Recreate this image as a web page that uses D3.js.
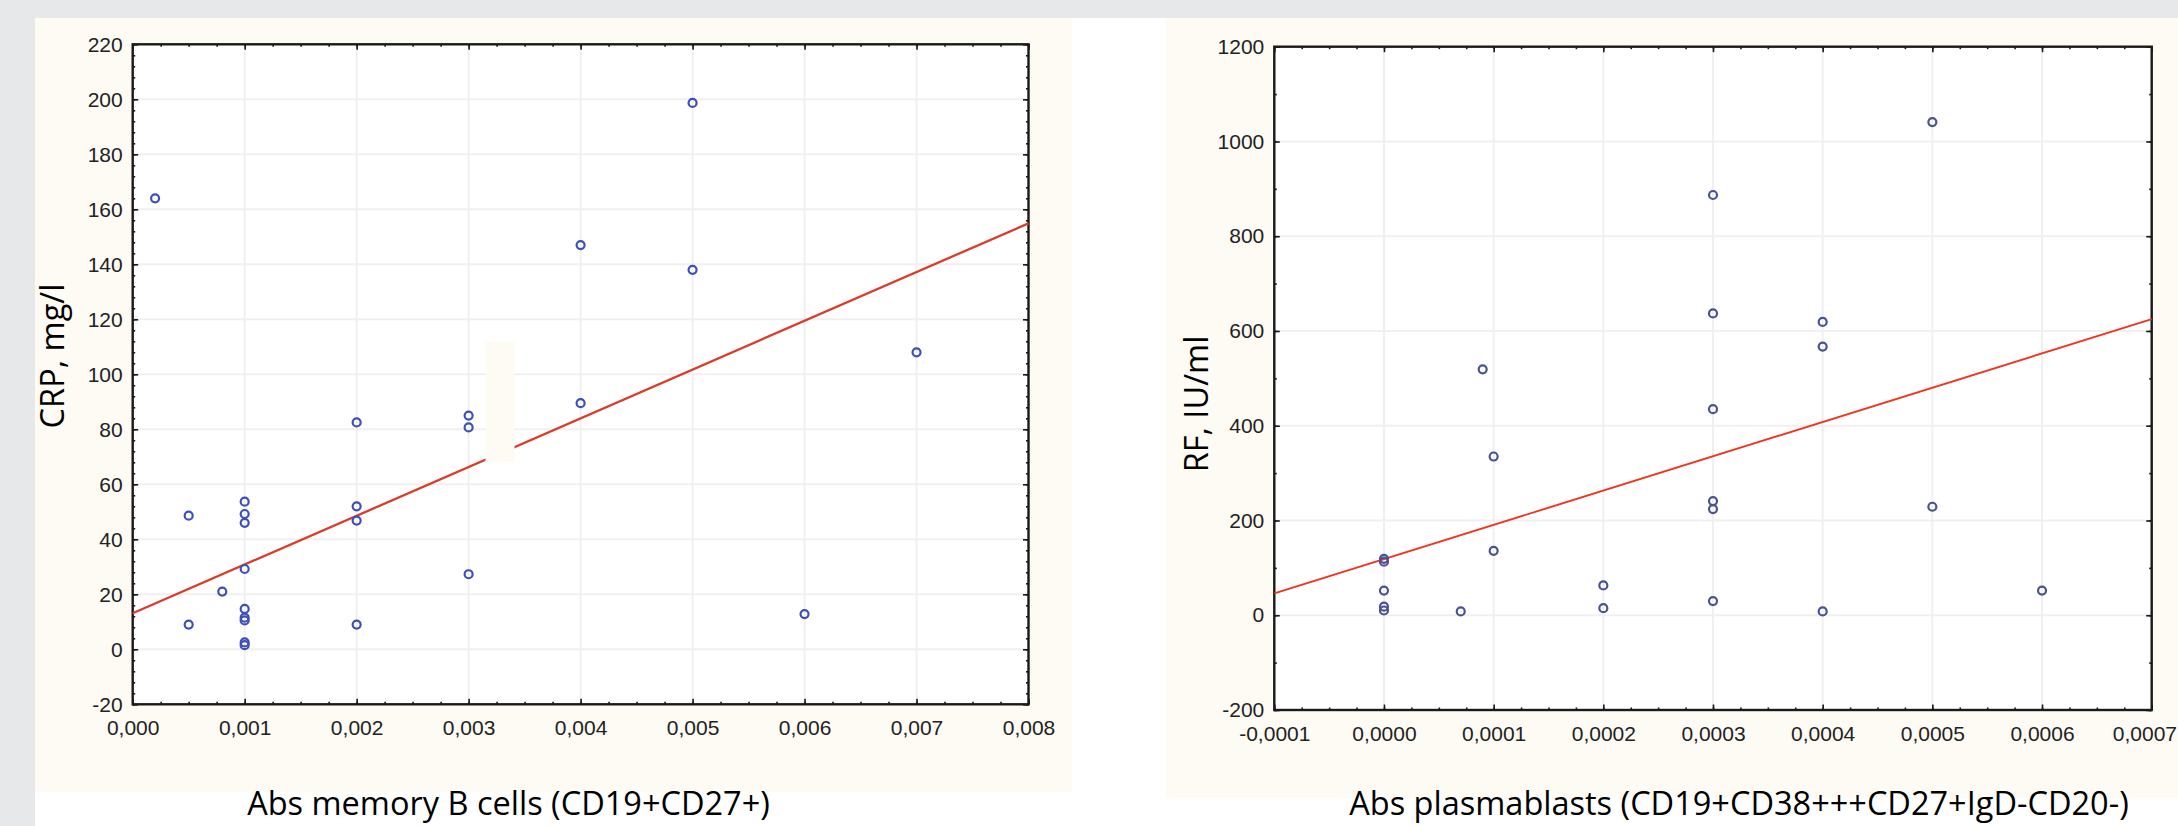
<!DOCTYPE html>
<html>
<head>
<meta charset="utf-8">
<script src="https://cdn.jsdelivr.net/npm/d3@7"></script>
<style>
    html, body { margin: 0; padding: 0; background: #ffffff; }
    svg { display: block; }
    .tick text { font-family: "Liberation Sans", Arial, sans-serif; font-size: 21px; fill: #222; }
    .title { font-family: "Open Sans", sans-serif; font-size: 32.5px; fill: #000; }
</style>
</head>
<body>
<div id="chart"></div>
<script>
// left chart: memory B cells vs CRP
var memoryCells = [0.0002, 0.002, 0.003, 0.003, 0.005, 0.004, 0.005, 0.007, 0.004, 0.0005, 0.001, 0.001, 0.001,
    0.001, 0.0008, 0.001, 0.001, 0.001, 0.001, 0.001, 0.0005, 0.002, 0.002, 0.002, 0.003, 0.006];
var crp = [164, 82.5, 85, 80.7, 198.7, 147, 138, 108, 89.5, 48.6, 53.7, 49.2, 46,
    29.2, 21, 14.7, 11.5, 10.5, 2.5, 1.5, 9, 52, 46.8, 9, 27.3, 12.8];
var crpFit = [[0, 13.1], [0.008, 154.9]];
var memoryTicks = [0, 0.001, 0.002, 0.003, 0.004, 0.005, 0.006, 0.007, 0.008];
var crpTicks = [-20, 0, 20, 40, 60, 80, 100, 120, 140, 160, 180, 200, 220];
// the pale patch over the fit line in the original figure
var crpPatch = [[0.00315, 112], [0.00341, 68]];

// right chart: plasmablasts vs RF
var plasmablasts = [0.00009, 0.0005, 0.0003, 0.0003, 0.0004, 0.0004, 0.0003, 0.0001, 0.0001, 0, 0, 0,
    0, 0, 0.00007, 0.0002, 0.0002, 0.0003, 0.0003, 0.0005, 0.0003, 0.0004, 0.0006];
var rf = [519, 1041, 887, 637, 619, 567, 435, 335, 136, 119, 113, 52,
    18, 10, 8, 63, 15, 241, 224, 229, 30, 8, 52];
var rfFit = [[-0.0001, 46], [0.0007, 625]];
var plasmaTicks = [-0.0001, 0, 0.0001, 0.0002, 0.0003, 0.0004, 0.0005, 0.0006, 0.0007];
var rfTicks = [-200, 0, 200, 400, 600, 800, 1000, 1200];

(function() {

    var width = 2178;
    var height = 826;
    var cream = "#fefbf5";

    var locale = d3.formatLocale({decimal: ",", thousands: "", grouping: [3], currency: ["", ""], minus: "-"});

    var svg = d3.select("#chart")
        .append("svg")
        .attr("width", width)
        .attr("height", height);

    // page background
    svg.append("rect").attr("x", 0).attr("y", 0).attr("width", width).attr("height", 18).attr("fill", "#e7e8ea");
    svg.append("rect").attr("x", 0).attr("y", 0).attr("width", 35).attr("height", height).attr("fill", "#e7e8ea");
    svg.append("rect").attr("x", 35).attr("y", 18).attr("width", 1037).attr("height", 774).attr("fill", cream);
    svg.append("rect").attr("x", 1166).attr("y", 18).attr("width", width - 1166).attr("height", 780).attr("fill", cream);

    drawPanel(svg, {
        left: 132.7, right: 1028.5, top: 44.3, bottom: 704.3,
        xDomain: [0, 0.008], yDomain: [-20, 220],
        xTicks: memoryTicks, yTicks: crpTicks,
        xMinor: 0.00025, yMinor: 4,
        xFormat: locale.format(".3f"), yFormat: locale.format("d"),
        xs: memoryCells, ys: crp, fit: crpFit, patch: crpPatch,
        dotColor: "#3e4fb8", lineColor: "#dc3b2a", lineWidth: 2.3,
        yTitle: "CRP, mg/l", yTitleX: 64, yTitleY: 356,
        xTitle: "Abs memory B cells (CD19+CD27+)", xTitleX: 508.5, xTitleY: 815
    });

    drawPanel(svg, {
        left: 1274.3, right: 2151.7, top: 46.7, bottom: 710,
        xDomain: [-0.0001, 0.0007], yDomain: [-200, 1200],
        xTicks: plasmaTicks, yTicks: rfTicks,
        xMinor: 0.000025, yMinor: 100,
        xFormat: locale.format(".4f"), yFormat: locale.format("d"),
        xs: plasmablasts, ys: rf, fit: rfFit, patch: null,
        dotColor: "#4a5392", lineColor: "#f03420", lineWidth: 1.9,
        yTitle: "RF, IU/ml", yTitleX: 1208, yTitleY: 404,
        xTitle: "Abs plasmablasts (CD19+CD38+++CD27+IgD-CD20-)", xTitleX: 1739, xTitleY: 815
    });

    function drawPanel(svg, p) {

        var x = d3.scaleLinear().domain(p.xDomain).range([p.left, p.right]);
        var y = d3.scaleLinear().domain(p.yDomain).range([p.bottom, p.top]);

        var g = svg.append("g");

        g.append("rect")
            .attr("x", p.left).attr("y", p.top)
            .attr("width", p.right - p.left).attr("height", p.bottom - p.top)
            .attr("fill", "#ffffff");

        // faint grid
        g.append("g").selectAll("line").data(p.xTicks).enter().append("line")
            .attr("x1", function (d) { return x(d); })
            .attr("x2", function (d) { return x(d); })
            .attr("y1", p.top).attr("y2", p.bottom)
            .attr("stroke", "#f0f0f0").attr("stroke-width", 2);
        g.append("g").selectAll("line").data(p.yTicks).enter().append("line")
            .attr("y1", function (d) { return y(d); })
            .attr("y2", function (d) { return y(d); })
            .attr("x1", p.left).attr("x2", p.right)
            .attr("stroke", "#f0f0f0").attr("stroke-width", 2);

        var xMinor = d3.range(p.xDomain[0], p.xDomain[1] + p.xMinor / 2, p.xMinor);
        var yMinor = d3.range(p.yDomain[0], p.yDomain[1] + p.yMinor / 2, p.yMinor);

        // minor ticks, all four sides
        addAxis(d3.axisBottom(x).tickValues(xMinor).tickSize(-2.5).tickFormat(""), 0, p.bottom);
        addAxis(d3.axisTop(x).tickValues(xMinor).tickSize(-2.5).tickFormat(""), 0, p.top);
        addAxis(d3.axisLeft(y).tickValues(yMinor).tickSize(-2.5).tickFormat(""), p.left, 0);
        addAxis(d3.axisRight(y).tickValues(yMinor).tickSize(-2.5).tickFormat(""), p.right, 0);

        // major ticks
        var bottomAxis = addAxis(d3.axisBottom(x).tickValues(p.xTicks).tickSize(-5.5).tickPadding(16).tickFormat(p.xFormat), 0, p.bottom);
        addAxis(d3.axisTop(x).tickValues(p.xTicks).tickSize(-5.5).tickFormat(""), 0, p.top);
        addAxis(d3.axisLeft(y).tickValues(p.yTicks).tickSize(-5.5).tickPadding(10).tickFormat(p.yFormat), p.left, 0);
        addAxis(d3.axisRight(y).tickValues(p.yTicks).tickSize(-5.5).tickFormat(""), p.right, 0);

        // keep the last x label inside the page
        bottomAxis.selectAll(".tick text").each(function () {
            var t = d3.select(this);
            var box = this.getBBox();
            var tx = d3.select(this.parentNode).attr("transform");
            var cx = +tx.match(/translate\(([-\d.]+)/)[1];
            if (cx + box.width / 2 > width - 1) {
                t.attr("text-anchor", "end").attr("x", width - 1 - cx);
            }
        });

        g.append("rect")
            .attr("x", p.left).attr("y", p.top)
            .attr("width", p.right - p.left).attr("height", p.bottom - p.top)
            .attr("fill", "none").attr("stroke", "#1a1a1a").attr("stroke-width", 2.4);

        // regression line
        g.append("path")
            .datum(p.fit)
            .attr("d", d3.line().x(function (d) { return x(d[0]); }).y(function (d) { return y(d[1]); }))
            .attr("fill", "none")
            .attr("stroke", p.lineColor)
            .attr("stroke-width", p.lineWidth);

        if (p.patch) {
            g.append("rect")
                .attr("x", x(p.patch[0][0])).attr("y", y(p.patch[0][1]))
                .attr("width", x(p.patch[1][0]) - x(p.patch[0][0]))
                .attr("height", y(p.patch[1][1]) - y(p.patch[0][1]))
                .attr("fill", cream);
        }

        g.append("g").selectAll("circle").data(p.xs).enter().append("circle")
            .attr("cx", function (d) { return x(d); })
            .attr("cy", function (d, i) { return y(p.ys[i]); })
            .attr("r", 4)
            .attr("fill", "none")
            .attr("stroke", p.dotColor)
            .attr("stroke-width", 2.2);

        g.append("text")
            .attr("class", "title")
            .attr("transform", "translate(" + p.yTitleX + "," + p.yTitleY + ") rotate(-90)")
            .style("text-anchor", "middle")
            .text(p.yTitle);

        g.append("text")
            .attr("class", "title")
            .attr("x", p.xTitleX).attr("y", p.xTitleY)
            .style("text-anchor", "middle")
            .text(p.xTitle);

        function addAxis(axis, tx, ty) {
            var a = g.append("g")
                .attr("transform", "translate(" + tx + "," + ty + ")")
                .attr("color", "#1a1a1a")
                .call(axis);
            a.select(".domain").remove();
            a.selectAll(".tick line").attr("stroke-width", 1.6);
            return a;
        }
    }
})();
</script>
</body>
</html>
